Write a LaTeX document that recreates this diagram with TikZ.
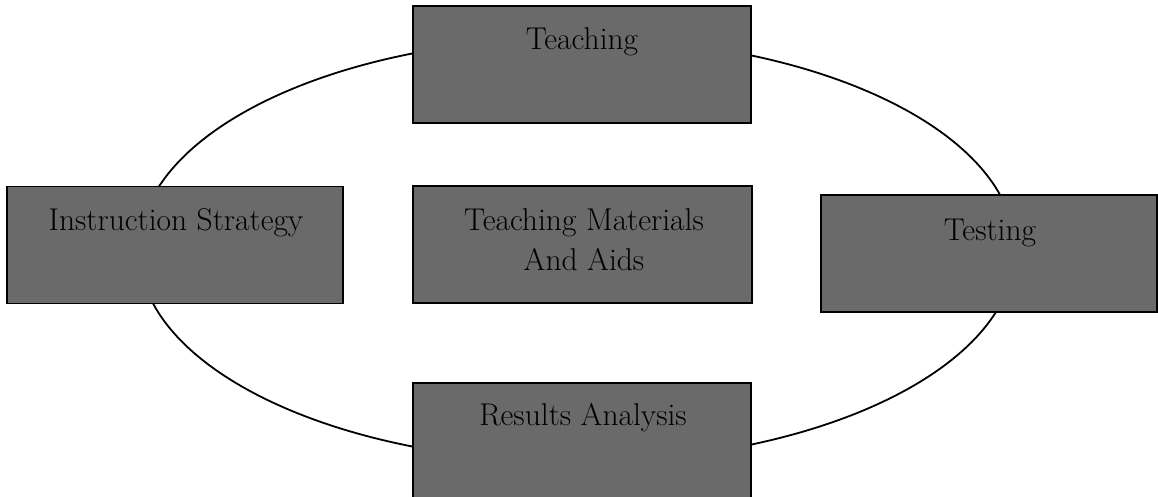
\documentclass[tikz,border=0pt]{standalone}
\usetikzlibrary{shapes.geometric}
\definecolor{boxgray}{HTML}{6A6A6A}
\begin{document}
\begin{tikzpicture}[x=1pt,y=-1pt,
  box/.style={draw=black,line width=1.8pt,fill=boxgray,inner sep=0pt,minimum height=117pt},
  lbl/.style={inner sep=0pt,text=black,font=\fontsize{31.5}{40}\selectfont,align=center},
  ring/.style={ellipse,draw=black,line width=1.8pt,inner sep=0pt}]
\useasboundingbox (0,0) rectangle (1158,497);
\node[ring,minimum width=876pt,minimum height=424pt] (cycle) at (577,250) {};
\node[box,minimum width=338pt] (teach) at (582,64.5) {};
\node[box,minimum width=336pt] (instr) at (175,245) {};
\node[box,minimum width=339pt] (mat) at (582.5,244.5) {};
\node[box,minimum width=336pt] (test) at (989,253.5) {};
\node[box,minimum width=338pt] (res) at (582,441.5) {};
\node[lbl,anchor=base] (teachT) at (582,50) {Teaching};
\node[lbl,anchor=base] (instrT) at (176,230) {Instruction Strategy};
\node[lbl,anchor=north] (matT) at (584,208) {Teaching Materials\\And Aids};
\node[lbl,anchor=base] (testT) at (990,240) {Testing};
\node[lbl,anchor=base] (resT) at (583,425) {Results Analysis};
\end{tikzpicture}
\end{document}
